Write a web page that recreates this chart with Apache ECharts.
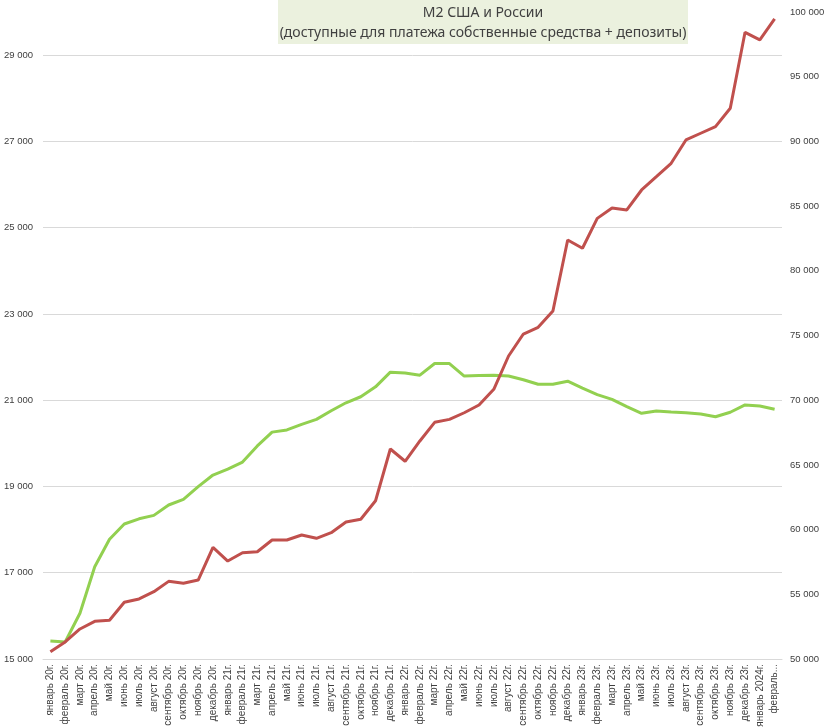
<!DOCTYPE html>
<html>
<head>
<meta charset="utf-8">
<script src="https://cdn.jsdelivr.net/npm/echarts@6/dist/echarts.min.js"></script>
<style>
html,body{margin:0;padding:0;background:#fff;}
#chart{width:826px;height:728px;}
</style>
</head>
<body>
<div id="chart"></div>
<script>
const categories = [
  'январь 20г.','февраль 20г.','март 20г.','апрель 20г.','май 20г.','июнь 20г.','июль 20г.','август 20г.','сентябрь 20г.','октябрь 20г.','ноябрь 20г.','декабрь 20г.',
  'январь 21г.','февраль 21г.','март 21г.','апрель 21г.','май 21г.','июнь 21г.','июль 21г.','август 21г.','сентябрь 21г.','октябрь 21г.','ноябрь 21г.','декабрь 21г.',
  'январь 22г.','февраль 22г.','март 22г.','апрель 22г.','май 22г.','июнь 22г.','июль 22г.','август 22г.','сентябрь 22г.','октябрь 22г.','ноябрь 22г.','декабрь 22г.',
  'январь 23г.','февраль 23г.','март 23г.','апрель 23г.','май 23г.','июнь 23г.','июль 23г.','август 23г.','сентябрь 23г.','октябрь 23г.','ноябрь 23г.','декабрь 23г.',
  'январь 2024г.','февраль 2024г.'
];
// M2 USA, bn USD (left axis)
const usaM2 = [
  15417,15394,16060,17140,17775,18130,18250,18330,18570,18700,18995,19265,
  19400,19565,19940,20260,20310,20440,20555,20755,20940,21080,21310,21650,
  21630,21580,21850,21850,21560,21575,21580,21560,21475,21370,21370,21440,
  21280,21130,21020,20850,20695,20750,20725,20710,20680,20615,20720,20890,
  20865,20790
];
// M2 Russia, bn RUB (right axis)
const russiaM2 = [
  50565,51315,52320,52910,52990,54380,54640,55200,56000,55850,56100,58630,
  57570,58215,58290,59196,59196,59580,59325,59760,60590,60796,62230,66230,
  65280,66850,68290,68520,69030,69630,70840,73415,75115,75630,76890,82380,
  81740,84050,84850,84700,86245,87270,88310,90110,90630,91140,92560,98430,
  97840,99460
];
const titleLines = ['M2 США и России','(доступные для платежа собственные средства + депозиты)'];

function fmt(v){ return String(v).replace(/\B(?=(\d{3})+(?!\d))/g,' '); }
function catFmt(s){ return s.length > 13 ? s.slice(0,7) + '...' : s; }
const labelFont = '"Liberation Sans", sans-serif';

const chart = echarts.init(document.getElementById('chart'));
chart.setOption({
  animation:false,
  backgroundColor:'#ffffff',
  grid:{left:43,right:44,top:12,bottom:69,containLabel:false,outerBoundsMode:'none'},
  xAxis:{
    type:'category',
    data:categories,
    boundaryGap:true,
    axisTick:{show:false},
    axisLine:{show:true,lineStyle:{color:'#d9d9d9',width:1}},
    axisLabel:{interval:0,rotate:90,fontSize:10,color:'#404040',fontFamily:labelFont,margin:5,formatter:catFmt}
  },
  yAxis:[
    {type:'value',min:15000,max:30000,interval:2000,position:'left',
     axisLine:{show:false},axisTick:{show:false},
     splitLine:{show:true,showMaxLine:false,lineStyle:{color:'#d9d9d9',width:1}},
     axisLabel:{showMaxLabel:false,fontSize:9.5,color:'#404040',fontFamily:labelFont,margin:10,formatter:fmt}},
    {type:'value',min:50000,max:100000,interval:5000,position:'right',
     axisLine:{show:false},axisTick:{show:false},splitLine:{show:false},
     axisLabel:{fontSize:9.5,color:'#404040',fontFamily:labelFont,margin:8,formatter:fmt}}
  ],
  series:[
    {name:'M2 США',type:'line',yAxisIndex:0,data:usaM2,symbol:'none',smooth:false,
     lineStyle:{color:'#92d050',width:3},z:2},
    {name:'M2 России',type:'line',yAxisIndex:1,data:russiaM2,symbol:'none',smooth:false,
     lineStyle:{color:'#c0504d',width:3},z:3}
  ],
  graphic:[
    {type:'group',left:278,top:0,children:[
      {type:'rect',shape:{x:0,y:0,width:410,height:44},style:{fill:'#ebf1de'}},
      {type:'text',style:{x:205,y:13,text:titleLines[0],textAlign:'center',textVerticalAlign:'middle',fill:'#404040',font:'14px "Noto Sans"'}},
      {type:'text',style:{x:205,y:33,text:titleLines[1],textAlign:'center',textVerticalAlign:'middle',fill:'#404040',font:'14px "Noto Sans"'}}
    ]}
  ]
});
</script>
</body>
</html>
